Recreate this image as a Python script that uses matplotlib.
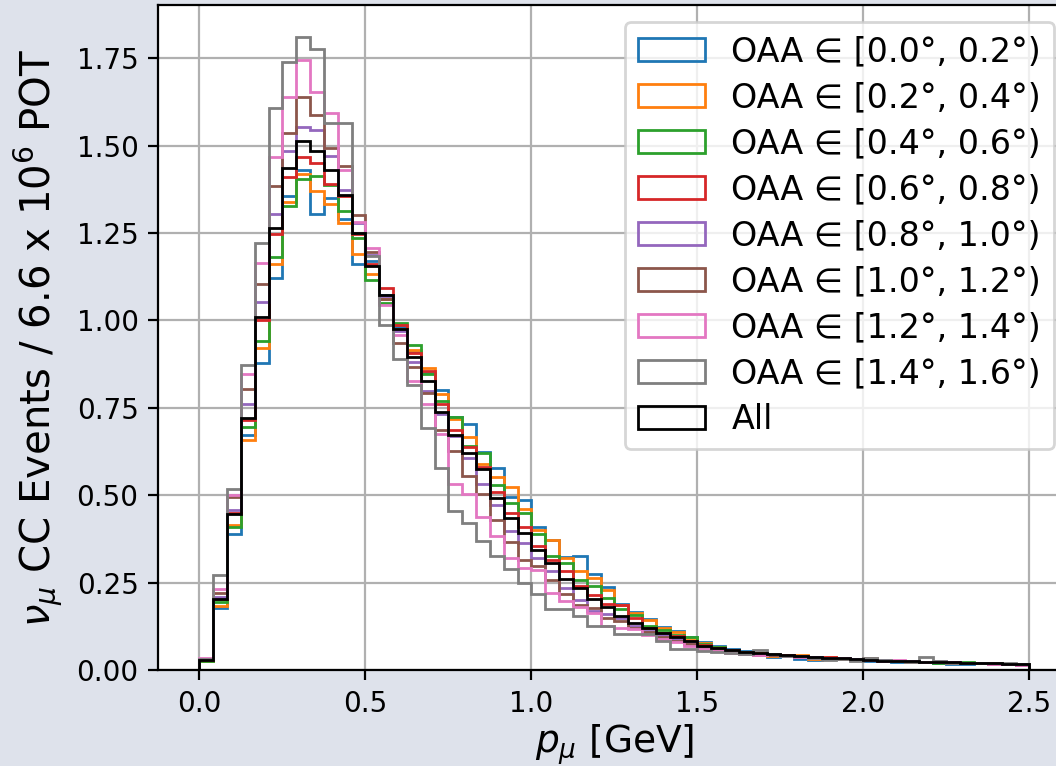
import numpy as np
import matplotlib
matplotlib.use("Agg")
import matplotlib.pyplot as plt

# 60 bins from 0 to 2.5 GeV
bin_edges = np.linspace(0.0, 2.5, 61)

labels = [
    "OAA \u2208 [0.0\u00b0, 0.2\u00b0)",
    "OAA \u2208 [0.2\u00b0, 0.4\u00b0)",
    "OAA \u2208 [0.4\u00b0, 0.6\u00b0)",
    "OAA \u2208 [0.6\u00b0, 0.8\u00b0)",
    "OAA \u2208 [0.8\u00b0, 1.0\u00b0)",
    "OAA \u2208 [1.0\u00b0, 1.2\u00b0)",
    "OAA \u2208 [1.2\u00b0, 1.4\u00b0)",
    "OAA \u2208 [1.4\u00b0, 1.6\u00b0)",
    "All",
]

oaa_00_02 = [0.026, 0.177, 0.390, 0.674, 0.878, 1.120, 1.357, 1.431, 1.304, 1.349,
             1.290, 1.162, 1.170, 1.073, 0.980, 0.910, 0.850, 0.800, 0.725, 0.703,
             0.625, 0.577, 0.496, 0.487, 0.410, 0.373, 0.325, 0.326, 0.274, 0.239,
             0.190, 0.168, 0.148, 0.125, 0.112, 0.095, 0.080, 0.070, 0.060, 0.054,
             0.048, 0.038, 0.042, 0.032, 0.030, 0.036, 0.034, 0.030, 0.028, 0.029,
             0.024, 0.026, 0.025, 0.022, 0.018, 0.017, 0.020, 0.021, 0.019, 0.016]

oaa_02_04 = [0.028, 0.183, 0.416, 0.658, 0.920, 1.160, 1.338, 1.420, 1.371, 1.332,
             1.279, 1.189, 1.134, 1.062, 0.975, 0.917, 0.865, 0.790, 0.718, 0.667,
             0.591, 0.553, 0.525, 0.460, 0.402, 0.373, 0.321, 0.283, 0.264, 0.231,
             0.188, 0.165, 0.144, 0.122, 0.110, 0.092, 0.078, 0.068, 0.058, 0.052,
             0.050, 0.042, 0.040, 0.045, 0.033, 0.037, 0.032, 0.030, 0.029, 0.026,
             0.027, 0.025, 0.024, 0.023, 0.022, 0.020, 0.021, 0.020, 0.018, 0.016]

oaa_04_06 = [0.028, 0.196, 0.409, 0.696, 0.942, 1.181, 1.328, 1.403, 1.414, 1.387,
             1.313, 1.235, 1.116, 1.051, 0.993, 0.930, 0.846, 0.770, 0.724, 0.642,
             0.620, 0.529, 0.477, 0.451, 0.390, 0.326, 0.307, 0.259, 0.240, 0.207,
             0.175, 0.158, 0.127, 0.115, 0.100, 0.095, 0.075, 0.066, 0.057, 0.050,
             0.047, 0.043, 0.041, 0.039, 0.036, 0.034, 0.033, 0.031, 0.030, 0.027,
             0.026, 0.024, 0.025, 0.020, 0.022, 0.024, 0.022, 0.019, 0.018, 0.016]

oaa_06_08 = [0.030, 0.205, 0.450, 0.715, 1.001, 1.246, 1.409, 1.466, 1.450, 1.390,
             1.356, 1.246, 1.160, 1.092, 0.986, 0.908, 0.856, 0.760, 0.686, 0.637,
             0.580, 0.510, 0.449, 0.410, 0.354, 0.315, 0.285, 0.240, 0.215, 0.190,
             0.188, 0.150, 0.122, 0.108, 0.098, 0.085, 0.072, 0.064, 0.057, 0.050,
             0.047, 0.043, 0.044, 0.040, 0.037, 0.038, 0.033, 0.031, 0.030, 0.028,
             0.026, 0.025, 0.024, 0.023, 0.022, 0.021, 0.020, 0.019, 0.018, 0.017]

oaa_08_10 = [0.030, 0.210, 0.459, 0.760, 1.053, 1.304, 1.483, 1.554, 1.543, 1.470,
             1.373, 1.278, 1.187, 1.070, 0.969, 0.880, 0.797, 0.732, 0.670, 0.608,
             0.532, 0.473, 0.397, 0.365, 0.320, 0.283, 0.236, 0.200, 0.171, 0.160,
             0.150, 0.128, 0.112, 0.100, 0.090, 0.080, 0.068, 0.060, 0.055, 0.050,
             0.046, 0.044, 0.041, 0.040, 0.037, 0.035, 0.034, 0.032, 0.029, 0.030,
             0.028, 0.025, 0.024, 0.026, 0.023, 0.021, 0.020, 0.019, 0.018, 0.016]

oaa_10_12 = [0.030, 0.222, 0.494, 0.803, 1.105, 1.385, 1.537, 1.639, 1.588, 1.493,
             1.441, 1.301, 1.195, 1.060, 0.936, 0.867, 0.792, 0.686, 0.627, 0.556,
             0.505, 0.430, 0.366, 0.316, 0.297, 0.259, 0.217, 0.188, 0.179, 0.150,
             0.141, 0.122, 0.110, 0.095, 0.085, 0.075, 0.065, 0.058, 0.052, 0.048,
             0.045, 0.043, 0.040, 0.038, 0.036, 0.034, 0.032, 0.030, 0.034, 0.028,
             0.026, 0.025, 0.024, 0.023, 0.022, 0.021, 0.020, 0.019, 0.018, 0.016]

oaa_12_14 = [0.034, 0.232, 0.500, 0.848, 1.163, 1.466, 1.640, 1.745, 1.652, 1.594,
             1.430, 1.282, 1.206, 1.043, 0.958, 0.827, 0.761, 0.675, 0.533, 0.504,
             0.437, 0.383, 0.321, 0.293, 0.288, 0.222, 0.198, 0.180, 0.165, 0.127,
             0.122, 0.117, 0.100, 0.090, 0.080, 0.070, 0.062, 0.055, 0.050, 0.046,
             0.043, 0.048, 0.040, 0.038, 0.036, 0.034, 0.036, 0.030, 0.029, 0.028,
             0.030, 0.026, 0.025, 0.024, 0.023, 0.021, 0.020, 0.019, 0.017, 0.016]

oaa_14_16 = [0.032, 0.272, 0.517, 0.872, 1.222, 1.606, 1.738, 1.811, 1.775, 1.565,
             1.565, 1.249, 1.183, 0.988, 0.889, 0.815, 0.694, 0.578, 0.456, 0.420,
             0.370, 0.326, 0.290, 0.250, 0.217, 0.174, 0.174, 0.155, 0.127, 0.127,
             0.103, 0.103, 0.103, 0.085, 0.061, 0.061, 0.055, 0.052, 0.050, 0.047,
             0.057, 0.046, 0.040, 0.042, 0.036, 0.030, 0.032, 0.028, 0.034, 0.030,
             0.026, 0.024, 0.039, 0.026, 0.022, 0.020, 0.021, 0.022, 0.020, 0.017]

all_oaa = [0.030, 0.205, 0.447, 0.720, 1.011, 1.263, 1.437, 1.512, 1.483, 1.430,
           1.360, 1.249, 1.156, 1.072, 0.977, 0.896, 0.828, 0.737, 0.673, 0.620,
           0.575, 0.493, 0.435, 0.392, 0.345, 0.307, 0.262, 0.235, 0.205, 0.180,
           0.156, 0.136, 0.120, 0.106, 0.095, 0.085, 0.070, 0.063, 0.057, 0.053,
           0.050, 0.046, 0.043, 0.040, 0.038, 0.036, 0.034, 0.032, 0.030, 0.028,
           0.027, 0.026, 0.025, 0.024, 0.023, 0.022, 0.021, 0.020, 0.019, 0.017]

series = [oaa_00_02, oaa_02_04, oaa_04_06, oaa_06_08, oaa_08_10,
          oaa_10_12, oaa_12_14, oaa_14_16, all_oaa]
colors = ["C0", "C1", "C2", "C3", "C4", "C5", "C6", "C7", "black"]

bin_centers = 0.5 * (bin_edges[:-1] + bin_edges[1:])

fig = plt.figure(figsize=(5.28, 3.83), dpi=200, facecolor="#dee2eb")
ax = fig.add_axes([0.1496, 0.1249, 0.8646, 0.8685])

for vals, lab, col in zip(series, labels, colors):
    ax.hist(bin_centers, bins=bin_edges, weights=vals, histtype="step",
            color=col, label=lab)

ax.grid(True)
ax.set_xlabel(r"$p_\mu$ [GeV]", fontsize=13.5, labelpad=1.5)
ax.set_ylabel(r"$\nu_\mu$ CC Events / 6.6 x 10$^6$ POT", fontsize=14.5)
ax.legend(loc="upper right", fontsize=12, labelspacing=0.39)

fig.savefig("out.png", dpi=200, facecolor=fig.get_facecolor())
